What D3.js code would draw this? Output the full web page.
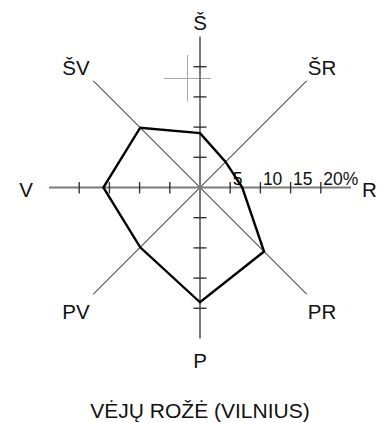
<!DOCTYPE html>
<html>
<head>
<meta charset="utf-8">
<script src="https://cdn.jsdelivr.net/npm/d3@7"></script>
<style>
  body { margin: 0; background: #fff; }
  svg { display: block; font-family: "Liberation Sans", Arial, sans-serif; }
</style>
</head>
<body>
<div id="chart"></div>
<script>
// directions, clockwise from north
var directions = ["Š", "ŠR", "R", "PR", "P", "PV", "V", "ŠV"];
// wind frequency, %
var frequency = [9, 6, 7, 15, 19, 14, 16, 14];
// ring ticks, %
var tickValues = [5, 10, 15, 20];
var tickLabels = ["5", "10", "15", "20%"];
var title = "VĖJŲ ROŽĖ (VILNIUS)";

var W = 378, H = 423;
var cx = 200, cy = 187.5;
var MAX_PCT = 25;

var svg = d3.select("#chart").append("svg")
    .attr("width", W)
    .attr("height", H);

var r = d3.scaleLinear().domain([0, MAX_PCT]).range([0, 151]);
var angle = d3.scaleLinear().domain([0, directions.length]).range([0, 2 * Math.PI]);

function pt(i, v) {
    var a = angle(i);
    return [cx + r(v) * Math.sin(a), cy - r(v) * Math.cos(a)];
}

var g = svg.append("g");

// stray crosshair (as in the scan)
g.append("line").attr("x1", 187.5).attr("x2", 187.5).attr("y1", 55).attr("y2", 101.5)
    .attr("stroke", "#a8a8a8").attr("stroke-width", 1);
g.append("line").attr("x1", 164).attr("x2", 211).attr("y1", 78.5).attr("y2", 78.5)
    .attr("stroke", "#a8a8a8").attr("stroke-width", 1);

// diagonal axes
[1, 3, 5, 7].forEach(function(i) {
    var p = pt(i, MAX_PCT);
    g.append("line")
        .attr("x1", cx).attr("y1", cy)
        .attr("x2", p[0]).attr("y2", p[1])
        .attr("stroke", "#000").attr("stroke-width", 1);
});

// main axes
[0, 2, 4, 6].forEach(function(i) {
    var p = pt(i, MAX_PCT);
    g.append("line")
        .attr("x1", cx).attr("y1", cy)
        .attr("x2", p[0]).attr("y2", p[1])
        .attr("stroke", "#7a7a7a").attr("stroke-width", 2);
});

// ticks on main axes
[0, 2, 4, 6].forEach(function(i) {
    tickValues.forEach(function(v) {
        var p = pt(i, v);
        var horiz = (i === 0 || i === 4);
        g.append("line")
            .attr("x1", horiz ? p[0] - 6.5 : p[0])
            .attr("x2", horiz ? p[0] + 6.5 : p[0])
            .attr("y1", horiz ? p[1] : p[1] - 5.5)
            .attr("y2", horiz ? p[1] : p[1] + 6)
            .attr("stroke", "#333").attr("stroke-width", 1.4);
    });
});

// tick labels along east axis
g.selectAll(".tl").data(tickValues).enter().append("text")
    .attr("x", function(d) { return pt(2, d)[0] + 2.5; })
    .attr("y", 185)
    .attr("font-size", 17.5)
    .attr("fill", "#111")
    .text(function(d, k) { return tickLabels[k]; });

// wind rose polygon
var line = d3.line().curve(d3.curveLinearClosed);
g.append("path")
    .attr("d", line(frequency.map(function(v, i) { return pt(i, v); })))
    .attr("fill", "none")
    .attr("stroke", "#000")
    .attr("stroke-width", 2.4)
    .attr("stroke-linejoin", "miter");

// direction labels
var labelPos = [
    [200, 29.5, "middle"], [322, 75, "middle"], [362, 197, "start"], [322, 319, "middle"],
    [200, 368, "middle"], [76, 319, "middle"], [26, 197, "middle"], [76, 75, "middle"]
];
g.selectAll(".dl").data(directions).enter().append("text")
    .attr("x", function(d, i) { return labelPos[i][0]; })
    .attr("y", function(d, i) { return labelPos[i][1]; })
    .attr("text-anchor", function(d, i) { return labelPos[i][2]; })
    .attr("font-size", 20.5)
    .attr("fill", "#111")
    .text(function(d) { return d; });

// title
svg.append("text")
    .attr("x", 200).attr("y", 418)
    .attr("text-anchor", "middle")
    .attr("font-size", 21)
    .attr("fill", "#111")
    .text(title);
</script>
</body>
</html>
